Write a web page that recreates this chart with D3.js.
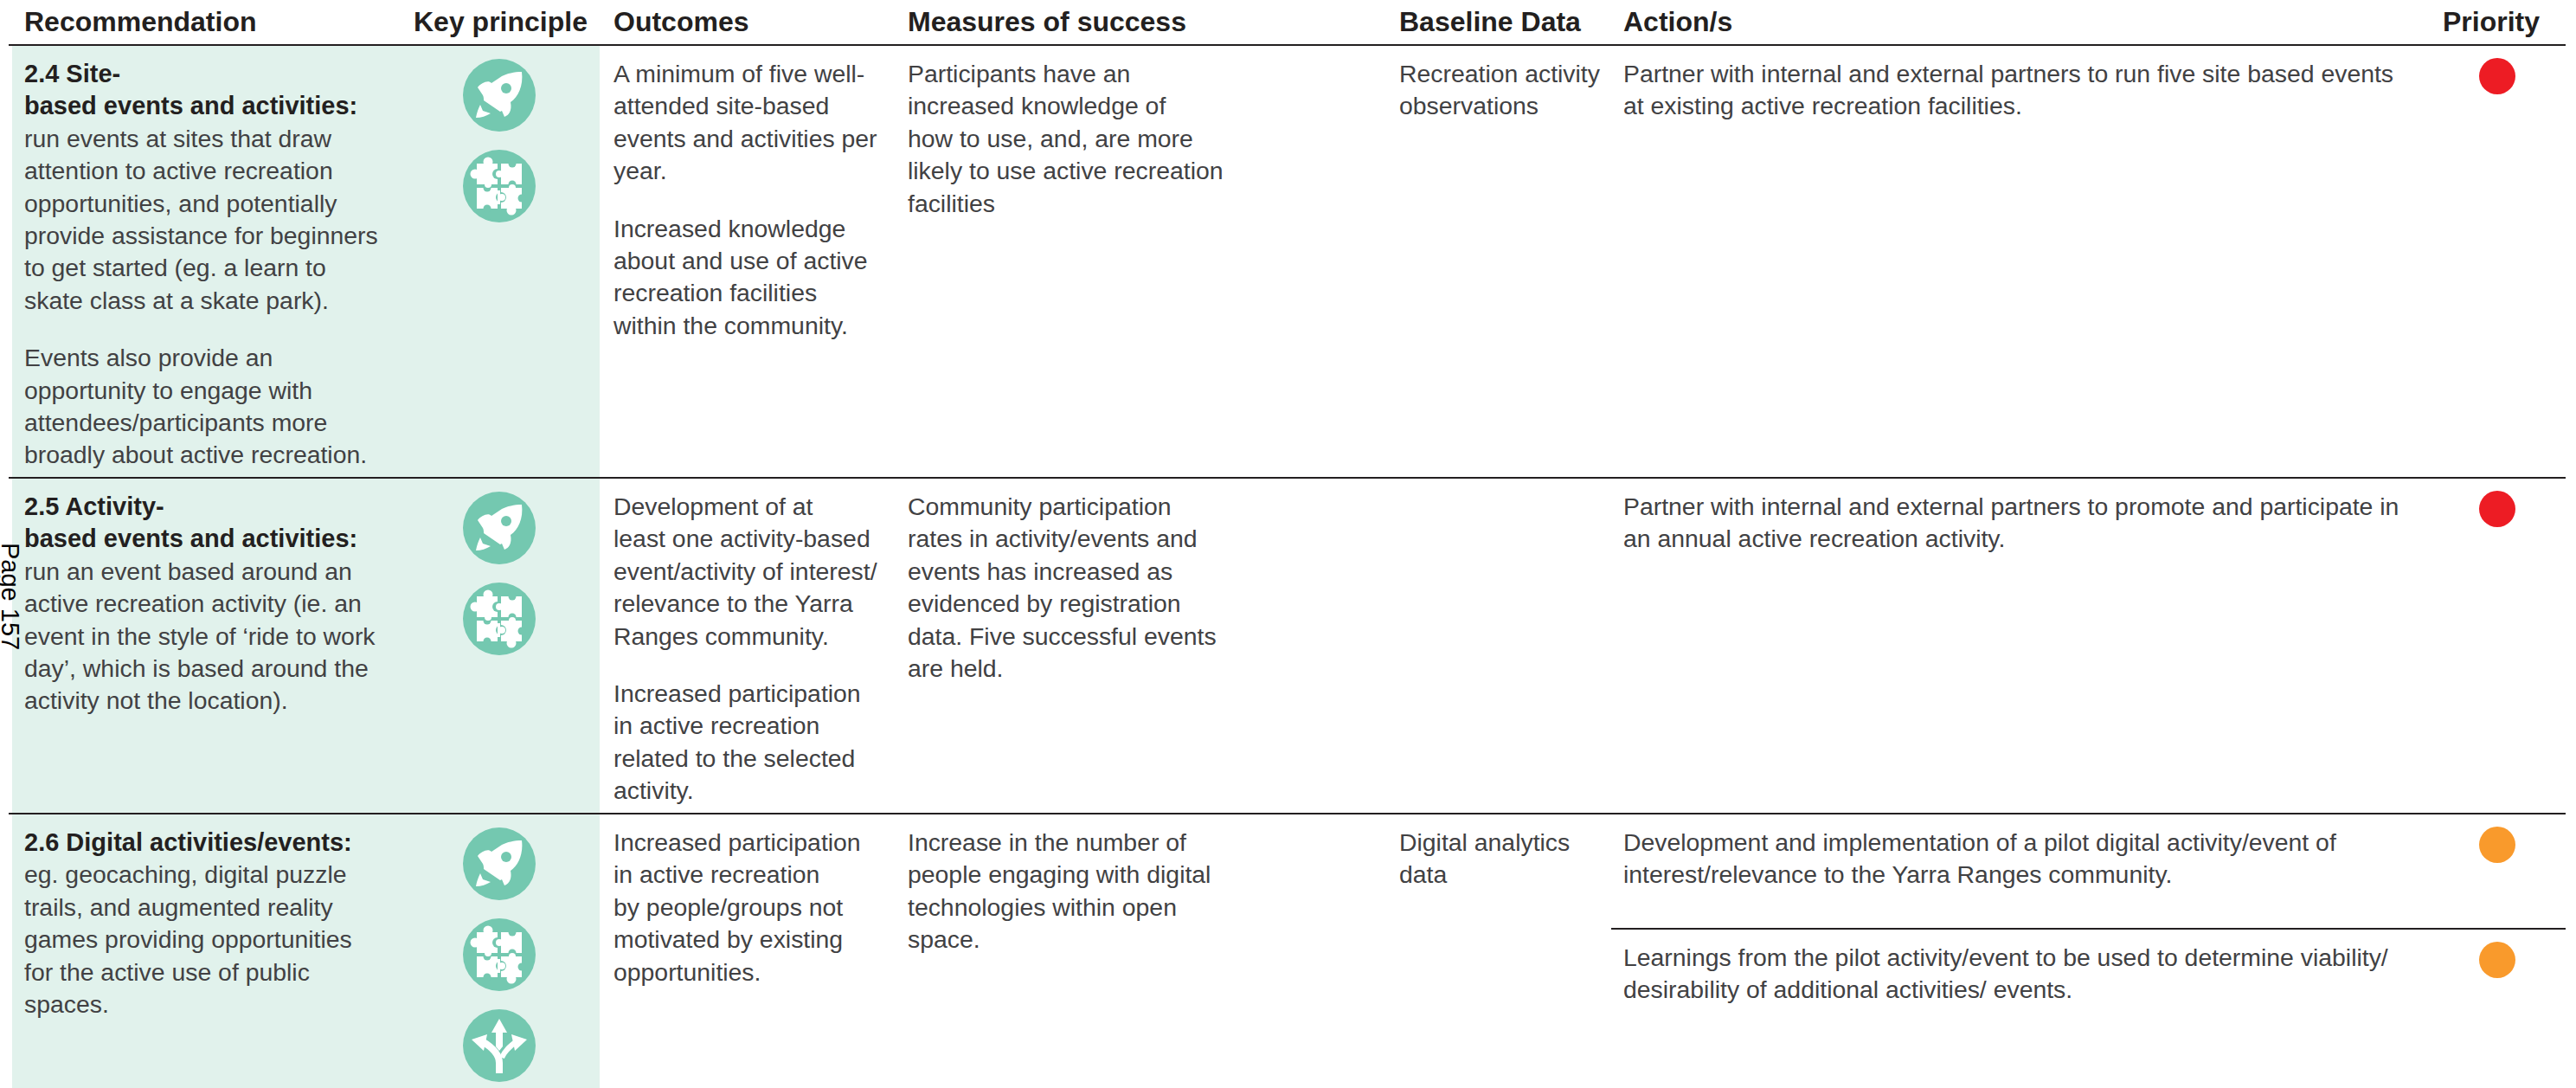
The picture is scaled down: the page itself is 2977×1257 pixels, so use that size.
<!DOCTYPE html>
<html>
<head>
<meta charset="utf-8">
<script src="https://cdn.jsdelivr.net/npm/d3@7"></script>
<style>
  html, body { margin: 0; padding: 0; background: #fff; }
  svg { display: block; }
  text { font-family: "Liberation Sans", Arial, sans-serif; }
</style>
</head>
<body>
<svg width="2977" height="1257"></svg>
<script>
const headers = ["Recommendation", "Key principle", "Outcomes", "Measures of success", "Baseline Data", "Action/s", "Priority"];
const rows = ["2.4", "2.5", "2.6"];

// each cell is a list of paragraphs, each paragraph a list of lines
const recommendationTitles = [
    ["2.4 Site-", "based events and activities:"],
    ["2.5 Activity-", "based events and activities:"],
    ["2.6 Digital activities/events:"]
];
const recommendations = [
    [["run events at sites that draw", "attention to active recreation", "opportunities, and potentially", "provide assistance for beginners", "to get started (eg. a learn to", "skate class at a skate park)."],
     ["Events also provide an", "opportunity to engage with", "attendees/participants more", "broadly about active recreation."]],
    [["run an event based around an", "active recreation activity (ie. an", "event in the style of ‘ride to work", "day’, which is based around the", "activity not the location)."]],
    [["eg. geocaching, digital puzzle", "trails, and augmented reality", "games providing opportunities", "for the active use of public", "spaces."]]
];
const outcomes = [
    [["A minimum of five well-", "attended site-based", "events and activities per", "year."],
     ["Increased knowledge", "about and use of active", "recreation facilities", "within the community."]],
    [["Development of at", "least one activity-based", "event/activity of interest/", "relevance to the Yarra", "Ranges community."],
     ["Increased participation", "in active recreation", "related to the selected", "activity."]],
    [["Increased participation", "in active recreation", "by people/groups not", "motivated by existing", "opportunities."]]
];
const measures = [
    [["Participants have an", "increased knowledge of", "how to use, and, are more", "likely to use active recreation", "facilities"]],
    [["Community participation", "rates in activity/events and", "events has increased as", "evidenced by registration", "data. Five successful events", "are held."]],
    [["Increase in the number of", "people engaging with digital", "technologies within open", "space."]]
];
const baselineData = [
    [["Recreation activity", "observations"]],
    [],
    [["Digital analytics", "data"]]
];
const actions = [
    {row: "2.4", sub: 0, lines: ["Partner with internal and external partners to run five site based events", "at existing active recreation facilities."], priority: "High"},
    {row: "2.5", sub: 0, lines: ["Partner with internal and external partners to promote and participate in", "an annual active recreation activity."], priority: "High"},
    {row: "2.6", sub: 0, lines: ["Development and implementation of a pilot digital activity/event of", "interest/relevance to the Yarra Ranges community."], priority: "Medium"},
    {row: "2.6", sub: 1, lines: ["Learnings from the pilot activity/event to be used to determine viability/", "desirability of additional activities/ events."], priority: "Medium"}
];
const keyPrinciples = [
    ["rocket", "puzzle"],
    ["rocket", "puzzle"],
    ["rocket", "puzzle", "arrows"]
];

// layout
const green = "#74c8b0", paleGreen = "#e1f2ec", ink = "#231f20", body = "#414143";
const lineH = 37.4, paraGap = 29, bodySize = 28.4;

const svg = d3.select("svg");
const colX = d3.scaleOrdinal(headers, [28, 478, 709, 1049, 1617, 1876, 2823]);
const rowTop = d3.scaleOrdinal(rows, [52, 552, 940]);
const priorityColor = d3.scaleOrdinal(["High", "Medium"], ["#ed1c24", "#f99a2c"]);

// green band of the first column
svg.append("rect")
    .attr("x", 14).attr("y", rowTop("2.4"))
    .attr("width", 679).attr("height", 1257 - rowTop("2.4"))
    .attr("fill", paleGreen);

// rules
svg.selectAll(".rule")
    .data(rows)
    .enter().append("line")
    .attr("class", "rule")
    .attr("x1", 10).attr("x2", 2965)
    .attr("y1", d => rowTop(d)).attr("y2", d => rowTop(d))
    .attr("stroke", ink).attr("stroke-width", 2);

svg.append("line")
    .attr("x1", 1862).attr("x2", 2965)
    .attr("y1", 1073).attr("y2", 1073)
    .attr("stroke", ink).attr("stroke-width", 2);

// headers
svg.selectAll(".header")
    .data(headers)
    .enter().append("text")
    .attr("class", "header")
    .attr("x", d => colX(d))
    .attr("y", 36)
    .attr("font-size", 32)
    .attr("font-weight", "bold")
    .attr("fill", ink)
    .text(d => d);

// flatten a cell into one record for each line
function cellLines(paragraphs, row, titles) {
    const out = [];
    let y = rowTop(row) + 43;
    (titles || []).forEach(t => {
        out.push({text: t, y: y, bold: true});
        y += lineH;
    });
    paragraphs.forEach(p => {
        p.forEach(t => {
            out.push({text: t, y: y, bold: false});
            y += lineH;
        });
        y += paraGap;
    });
    return out;
}

function drawColumn(name, cells, titles) {
    rows.forEach((r, i) => {
        svg.append("g")
            .selectAll("text")
            .data(cellLines(cells[i], r, titles ? titles[i] : null))
            .enter().append("text")
            .attr("x", colX(name))
            .attr("y", d => d.y)
            .attr("font-size", d => d.bold ? 29 : bodySize)
            .attr("font-weight", d => d.bold ? "bold" : "normal")
            .attr("fill", d => d.bold ? ink : body)
            .text(d => d.text);
    });
}

drawColumn("Recommendation", recommendations, recommendationTitles);
drawColumn("Outcomes", outcomes);
drawColumn("Measures of success", measures);
drawColumn("Baseline Data", baselineData);

// actions and their priority dots
const subOffset = d3.scaleOrdinal([0, 1], [0, 133]);
actions.forEach(a => {
    const top = rowTop(a.row) + subOffset(a.sub);
    svg.append("g")
        .selectAll("text")
        .data(a.lines)
        .enter().append("text")
        .attr("x", colX("Action/s"))
        .attr("y", (d, i) => top + 43 + i * lineH)
        .attr("font-size", bodySize)
        .attr("fill", body)
        .text(d => d);
    svg.append("circle")
        .attr("cx", 2886)
        .attr("cy", top + 36)
        .attr("r", 21)
        .attr("fill", priorityColor(a.priority));
});

// icons, drawn around the centre of a 42px circle
const iconDraw = {
    rocket: g => {
        g.append("path")
            .attr("d", "M26,-27 C17,-27 9,-25 3,-22 L-9,-14 C-13,-18 -21,-14 -25,-9 L-19,0 C-18,2 -18,4 -18,6 L1,19 L3,18 L6,25 C11,23 15,18 13,8 C22,2 28,-11 26,-27 Z")
            .attr("fill", "#fff");
        g.append("circle").attr("cx", 8).attr("cy", -8).attr("r", 6).attr("fill", green);
        g.append("path")
            .attr("d", "M-27,26 C-26,20 -24,15 -22,11 L-19,18 L-10,21 C-15,24 -21,26 -27,26 Z")
            .attr("fill", "#fff");
    },
    puzzle: g => {
        [[-26, -26], [2, -26], [-26, 2], [2, 2]].forEach(c => {
            g.append("rect").attr("x", c[0]).attr("y", c[1]).attr("width", 24).attr("height", 24).attr("fill", "#fff");
        });
        // green bites first, then the white knobs
        [[15, -26, 4.5], [15, -2, 4.5], [-14, 2, 4.5], [-14, 26, 4.5], [26, 14, 4.5], [-2, -14, 6], [2, 13, 6]].forEach(c => {
            g.append("circle").attr("cx", c[0]).attr("cy", c[1]).attr("r", c[2]).attr("fill", green);
        });
        // necks put back what the side bites took from the neighbouring piece
        [[2, -22, 3, 16], [-2, 5, 3, 16]].forEach(c => {
            g.append("rect").attr("x", c[0]).attr("y", c[1]).attr("width", c[2]).attr("height", c[3]).attr("fill", "#fff");
        });
        [[-28, -14, 5.5], [-13, -28, 5.5], [-13, -2, 4], [15, 2, 4], [14, 28, 5.5], [0, -14, 4], [3, 13, 4]].forEach(c => {
            g.append("circle").attr("cx", c[0]).attr("cy", c[1]).attr("r", c[2]).attr("fill", "#fff");
        });
    },
    arrows: g => {
        g.append("path")
            .attr("d", "M0,32 L0,20 C0,10 -8,2 -20,-5")
            .attr("fill", "none").attr("stroke", "#fff").attr("stroke-width", 8);
        g.append("path")
            .attr("d", "M3,14 C6,6 12,1 20,-5")
            .attr("fill", "none").attr("stroke", "#fff").attr("stroke-width", 6);
        g.append("path").attr("d", "M-32,-7 L-14,-13 L-18,6 Z").attr("fill", "#fff");
        g.append("path").attr("d", "M32,-7 L14,-13 L18,6 Z").attr("fill", "#fff");
        g.append("path").attr("d", "M0,-31 L9,-15 L4,-15 L4,1 L0,6 L-4,1 L-4,-15 L-9,-15 Z").attr("fill", "#fff");
    }
};

const iconY = d3.scaleLinear().domain([0, 1]).range([58, 163]);
rows.forEach((r, i) => {
    keyPrinciples[i].forEach((name, k) => {
        const g = svg.append("g")
            .attr("transform", "translate(577," + (rowTop(r) + iconY(k)) + ")");
        g.append("circle").attr("r", 42).attr("fill", green);
        iconDraw[name](g);
    });
});

// page stamp down the left edge
svg.append("text")
    .attr("transform", "translate(2,627) rotate(90)")
    .attr("font-size", 29)
    .attr("fill", "#000")
    .text("Page 157");
</script>
</body>
</html>
